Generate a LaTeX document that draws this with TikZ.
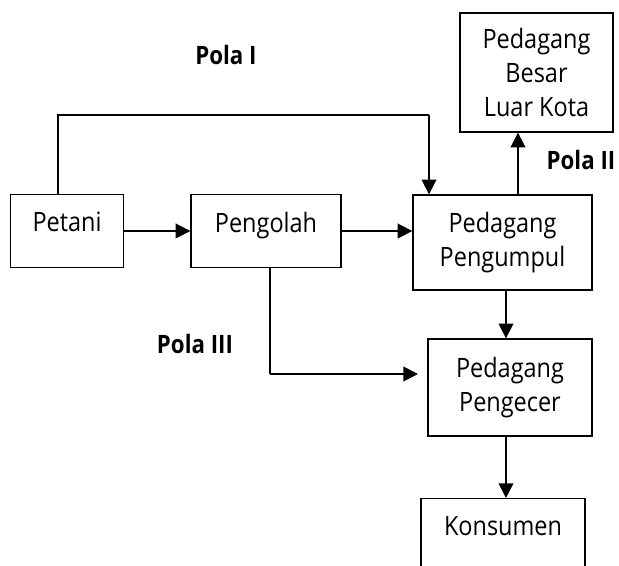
\documentclass[tikz,border=0pt]{standalone}
\usepackage{fontspec}
\setmainfont{Open Sans}[FakeStretch=0.88]
\usetikzlibrary{arrows.meta,positioning}

\begin{document}
\begin{tikzpicture}[x=0.75pt, y=-0.75pt,
    box/.style={rectangle, draw, line width=1pt, inner sep=2pt, align=center, font=\fontsize{20}{25.5}\selectfont},
    onebox/.style={box, text depth=13.5pt},
    pola/.style={font=\bfseries\fontsize{19}{23}\selectfont},
    arrow/.style={-{Triangle[length=11pt, width=11pt]}, line width=1.25pt},
    link/.style={line width=1.25pt}
]
\useasboundingbox (0,0) rectangle (619,566);
\node[onebox, minimum width=84.75pt, minimum height=54.75pt] (petani) at (67,231) {Petani};
\node[onebox, minimum width=112.5pt, minimum height=54.75pt] (pengolah) at (266,231) {Pengolah};
\node[box, minimum width=134.25pt, minimum height=71.25pt] (pengumpul) at (502.5,242.5) {Pedagang\\Pengumpul};
\node[box, minimum width=114.75pt, minimum height=89.25pt] (besar) at (536.5,72.5) {Pedagang\\Besar\\Luar Kota};
\node[box, minimum width=123pt, minimum height=72.75pt] (pengecer) at (510,387.5) {Pedagang\\Pengecer};
\node[box, minimum width=123pt, anchor=north, inner ysep=13.25pt, text height=14.5pt, text depth=60pt] (konsumen) at (503,498) {Konsumen};

\node[pola] (pola1) at (226,55) {Pola I};
\node[pola] (pola2) at (581,160) {Pola II};
\node[pola] (pola3) at (195,344) {Pola III};

% pola I
\coordinate (t1) at (58,115);
\coordinate (t2) at (429,115);
\draw[link] (petani.north -| t1) -- (t1) -- (t2);
\draw[arrow] (t2) -- (t2 |- pengumpul.north);
\draw[arrow] (petani.east) -- (petani.east -| pengolah.west);
\draw[arrow] (pengolah.east) -- (pengolah.east -| pengumpul.west);

% pola II
\coordinate (u1) at (518,195);
\draw[arrow] (u1) -- (u1 |- besar.south);

% pola III
\coordinate (b1) at (270,374);
\coordinate (b2) at (418,374);
\draw[link] (pengolah.south -| b1) -- (b1);
\draw[arrow] (b1) -- (b2);
\coordinate (d1) at (506,300);
\draw[arrow] (pengumpul.south -| d1) -- (pengecer.north -| d1);
\draw[arrow] (pengecer.south -| d1) -- (konsumen.north -| d1);
\end{tikzpicture}
\end{document}
